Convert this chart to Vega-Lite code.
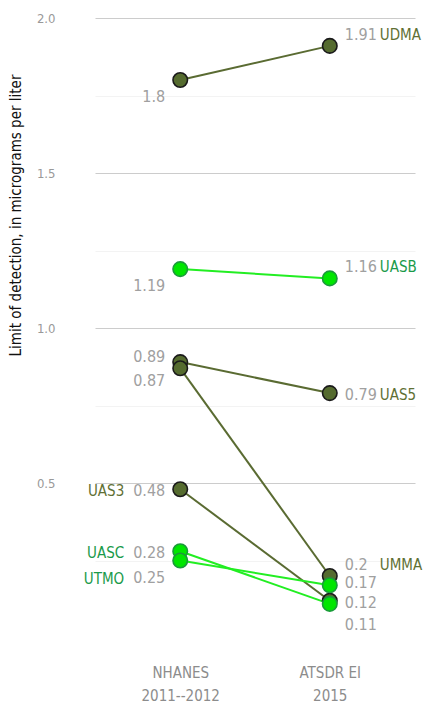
{
  "$schema": "https://vega.github.io/schema/vega-lite/v6.json",
  "autosize": "none",
  "width": 320,
  "height": 620,
  "padding": {"left": 95, "top": 18, "right": 18, "bottom": 71},
  "background": "white",
  "config": {
    "view": {"stroke": null},
    "font": "Liberation Sans Narrow, DejaVu Sans Condensed, sans-serif"
  },
  "data": {
    "values": [
      {"series": "UDMA", "group": "dark", "source": "NHANES|2011--2012", "side": "L", "value": 1.8},
      {"series": "UDMA", "group": "dark", "source": "ATSDR EI|2015", "side": "R", "value": 1.91},
      {"series": "UAS5", "group": "dark", "source": "NHANES|2011--2012", "side": "L", "value": 0.89},
      {"series": "UAS5", "group": "dark", "source": "ATSDR EI|2015", "side": "R", "value": 0.79},
      {"series": "UMMA", "group": "dark", "source": "NHANES|2011--2012", "side": "L", "value": 0.87},
      {"series": "UMMA", "group": "dark", "source": "ATSDR EI|2015", "side": "R", "value": 0.2},
      {"series": "UAS3", "group": "dark", "source": "NHANES|2011--2012", "side": "L", "value": 0.48},
      {"series": "UAS3", "group": "dark", "source": "ATSDR EI|2015", "side": "R", "value": 0.12},
      {"series": "UASB", "group": "green", "source": "NHANES|2011--2012", "side": "L", "value": 1.19},
      {"series": "UASB", "group": "green", "source": "ATSDR EI|2015", "side": "R", "value": 1.16},
      {"series": "UASC", "group": "green", "source": "NHANES|2011--2012", "side": "L", "value": 0.28},
      {"series": "UASC", "group": "green", "source": "ATSDR EI|2015", "side": "R", "value": 0.11},
      {"series": "UTMO", "group": "green", "source": "NHANES|2011--2012", "side": "L", "value": 0.25},
      {"series": "UTMO", "group": "green", "source": "ATSDR EI|2015", "side": "R", "value": 0.17}
    ]
  },
  "encoding": {
    "x": {
      "field": "source", "type": "nominal", "sort": null,
      "scale": {"type": "point", "padding": 0.57},
      "axis": {
        "title": null, "domain": false, "ticks": false, "grid": false,
        "labelAngle": 0, "labelExpr": "split(datum.label, '|')",
        "labelFontSize": 15, "labelColor": "#8c8c8c", "labelPadding": 27,
        "labelLineHeight": 23, "labelBaseline": "top"
      }
    },
    "y": {
      "field": "value", "type": "quantitative",
      "scale": {"domain": [0, 2], "nice": false, "zero": false},
      "axis": {
        "values": [0.25, 0.5, 0.75, 1, 1.25, 1.5, 1.75, 2],
        "labelExpr": "datum.value % 0.5 === 0 ? format(datum.value, '.1f') : ''",
        "domain": false, "ticks": false,
        "gridColor": {"condition": {"test": "datum.value % 0.5 === 0", "value": "#cccccc"}, "value": "#f3f3f3"},
        "gridWidth": 1.2,
        "labelColor": "#999999", "labelFontSize": 13, "labelPadding": 40,
        "title": "Limit of detection, in micrograms per liter",
        "titleFontSize": 15, "titleFontWeight": "normal", "titleColor": "#111111",
        "titleX": -80, "titleY": 197, "titleAngle": -90, "titleAlign": "center", "titleBaseline": "middle"
      }
    }
  },
  "layer": [
    {
      "mark": {"type": "line", "strokeWidth": 2},
      "encoding": {
        "detail": {"field": "series"},
        "color": {"field": "group", "type": "nominal", "scale": {"domain": ["dark", "green"], "range": ["#5a6b32", "#22ee22"]}, "legend": null}
      }
    },
    {
      "mark": {"type": "point", "shape": "circle", "filled": true, "size": 210, "opacity": 1, "strokeWidth": 1.6},
      "encoding": {
        "fill": {"field": "group", "type": "nominal", "scale": {"domain": ["dark", "green"], "range": ["#556b2f", "#00e600"]}, "legend": null},
        "stroke": {"field": "group", "type": "nominal", "scale": {"domain": ["dark", "green"], "range": ["#1a1a1a", "#1a9a3a"]}, "legend": null}
      }
    },
    {
      "transform": [{"filter": "datum.side === 'L' && indexof(['UDMA','UASB','UTMO'], datum.series) >= 0"}],
      "mark": {"type": "text", "align": "right", "baseline": "middle", "dx": -15, "dy": 17, "fontSize": 16, "color": "#a0a0a0"},
      "encoding": {"text": {"field": "value", "type": "quantitative"}}
    },
    {
      "transform": [{"filter": "datum.side === 'L' && datum.series === 'UAS5'"}],
      "mark": {"type": "text", "align": "right", "baseline": "middle", "dx": -15, "dy": -5, "fontSize": 16, "color": "#a0a0a0"},
      "encoding": {"text": {"field": "value", "type": "quantitative"}}
    },
    {
      "transform": [{"filter": "datum.side === 'L' && datum.series === 'UMMA'"}],
      "mark": {"type": "text", "align": "right", "baseline": "middle", "dx": -15, "dy": 13, "fontSize": 16, "color": "#a0a0a0"},
      "encoding": {"text": {"field": "value", "type": "quantitative"}}
    },
    {
      "transform": [{"filter": "datum.side === 'L' && indexof(['UAS3','UASC'], datum.series) >= 0"}],
      "mark": {"type": "text", "align": "right", "baseline": "middle", "dx": -15, "dy": 2, "fontSize": 16, "color": "#a0a0a0"},
      "encoding": {"text": {"field": "value", "type": "quantitative"}}
    },
    {
      "transform": [{"filter": "datum.side === 'L' && indexof(['UAS3','UASC'], datum.series) >= 0"}],
      "mark": {"type": "text", "align": "right", "baseline": "middle", "dx": -56, "dy": 2, "fontSize": 15},
      "encoding": {
        "text": {"field": "series"},
        "color": {"condition": {"test": "datum.group === 'dark'", "value": "#5f7034"}, "value": "#1a9a4a"}
      }
    },
    {
      "transform": [{"filter": "datum.side === 'L' && datum.series === 'UTMO'"}],
      "mark": {"type": "text", "align": "right", "baseline": "middle", "dx": -56, "dy": 18, "fontSize": 15},
      "encoding": {
        "text": {"field": "series"},
        "color": {"condition": {"test": "datum.group === 'dark'", "value": "#5f7034"}, "value": "#1a9a4a"}
      }
    },
    {
      "transform": [{"filter": "datum.side === 'R' && indexof(['UDMA','UASB','UMMA'], datum.series) >= 0"}],
      "mark": {"type": "text", "align": "left", "baseline": "middle", "dx": 15, "dy": -11, "fontSize": 16, "color": "#a0a0a0"},
      "encoding": {"text": {"field": "value", "type": "quantitative"}}
    },
    {
      "transform": [{"filter": "datum.side === 'R' && indexof(['UAS5','UAS3'], datum.series) >= 0"}],
      "mark": {"type": "text", "align": "left", "baseline": "middle", "dx": 15, "dy": 2, "fontSize": 16, "color": "#a0a0a0"},
      "encoding": {"text": {"field": "value", "type": "quantitative"}}
    },
    {
      "transform": [{"filter": "datum.side === 'R' && datum.series === 'UTMO'"}],
      "mark": {"type": "text", "align": "left", "baseline": "middle", "dx": 15, "dy": -2, "fontSize": 16, "color": "#a0a0a0"},
      "encoding": {"text": {"field": "value", "type": "quantitative"}}
    },
    {
      "transform": [{"filter": "datum.side === 'R' && datum.series === 'UASC'"}],
      "mark": {"type": "text", "align": "left", "baseline": "middle", "dx": 15, "dy": 21, "fontSize": 16, "color": "#a0a0a0"},
      "encoding": {"text": {"field": "value", "type": "quantitative"}}
    },
    {
      "transform": [{"filter": "datum.side === 'R' && indexof(['UDMA','UASB','UMMA'], datum.series) >= 0"}],
      "mark": {"type": "text", "align": "left", "baseline": "middle", "dx": 50, "dy": -11, "fontSize": 15},
      "encoding": {
        "text": {"field": "series"},
        "color": {"condition": {"test": "datum.group === 'dark'", "value": "#5f7034"}, "value": "#1a9a4a"}
      }
    },
    {
      "transform": [{"filter": "datum.side === 'R' && datum.series === 'UAS5'"}],
      "mark": {"type": "text", "align": "left", "baseline": "middle", "dx": 50, "dy": 2, "fontSize": 15},
      "encoding": {
        "text": {"field": "series"},
        "color": {"condition": {"test": "datum.group === 'dark'", "value": "#5f7034"}, "value": "#1a9a4a"}
      }
    }
  ]
}
